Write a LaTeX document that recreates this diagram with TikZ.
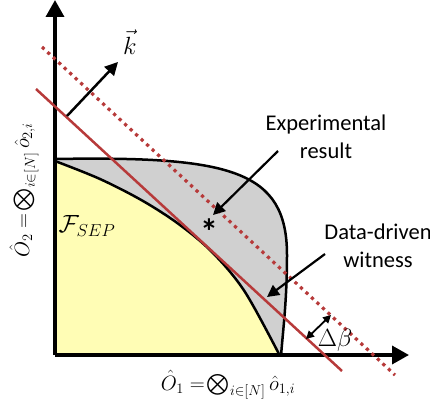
\documentclass[tikz,border=0pt]{standalone}
\usepackage{amsmath}
\usepackage{fontspec}
\setmainfont{Carlito}
\usetikzlibrary{arrows.meta}
\definecolor{redl}{RGB}{183,58,58}
\definecolor{yell}{RGB}{255,253,181}
\definecolor{grayf}{RGB}{208,208,208}
\begin{document}
\begin{tikzpicture}[x=1pt,y=-1pt,
  axis/.style={line width=3.5pt,-{Triangle[length=17pt,width=18pt]}},
  edge/.style={line width=2.5pt,black},
  redsolid/.style={line width=2.5pt,redl},
  reddot/.style={line width=3.2pt,redl,dash pattern=on 3.2pt off 4.3pt},
  pointer/.style={line width=2.2pt,-{Triangle[length=12pt,width=12pt]}},
  dbl/.style={line width=1.8pt,{Triangle[length=8pt,width=8pt]}-{Triangle[length=8pt,width=8pt]}},
  lbl/.style={font=\fontsize{22.5}{28}\selectfont,inner sep=0pt},
  mlbl/.style={font=\fontsize{21}{25}\selectfont,inner sep=0pt}]
\useasboundingbox (0,0) rectangle (430,404);
% regions
\fill[grayf] (55,159) .. controls (230,156) and (287,170) .. (287,255)
  .. controls (287,300) and (283,330) .. (281,356) -- (55,356) -- cycle;
\draw[edge] (55,159) .. controls (230,156) and (287,170) .. (287,255)
  .. controls (287,300) and (283,330) .. (281,356);
\fill[yell] plot[smooth,tension=0.55] coordinates {(55,161) (100,179) (143,201) (180,225) (213,253) (245,292) (280,356)} -- (55,356) -- cycle;
\draw[edge] plot[smooth,tension=0.55] coordinates {(55,161) (100,179) (143,201) (180,225) (213,253) (245,292) (280,356)};
% axes
\coordinate (O) at (55,355);
\coordinate (ytip) at (55,0);
\coordinate (xtip) at (409,355);
\draw[axis] (O) -- (ytip);
\draw[axis] (O) -- (xtip);
% witness lines
\coordinate (rs1) at (36,89);
\coordinate (rs2) at (342,371);
\coordinate (rd1) at (42,47);
\coordinate (rd2) at (395,375);
\draw[redsolid] (rs1) -- (rs2);
\draw[reddot] (rd1) -- (rd2);
% k vector
\coordinate (k1) at (67,116);
\coordinate (k2) at (118,62);
\draw[line width=2.5pt,-{Triangle[length=13pt,width=13pt]}] (k1) -- (k2);
\node[inner sep=0pt,font=\fontsize{25}{28}\selectfont] (klbl) at (130,42) {$\vec{k}$};
% star and experimental result
\node[inner sep=0pt,font=\fontsize{36}{36}\selectfont\bfseries] (star) at (209,232) {*};
\node[lbl,anchor=base] (exp1) at (326,130) {Experimental};
\node[lbl,anchor=base] (exp2) at (326,158) {result};
\coordinate (ea) at (278,151);
\coordinate (eb) at (213,215);
\draw[pointer] (ea) -- (eb);
% data-driven witness
\node[lbl,anchor=base] (dd1) at (378,239) {Data-driven};
\node[lbl,anchor=base] (dd2) at (378,267) {witness};
\coordinate (wa) at (325,254);
\coordinate (wb) at (267,297);
\draw[pointer] (wa) -- (wb);
% delta beta
\coordinate (da) at (306,339);
\coordinate (db) at (331,315);
\draw[dbl] (da) -- (db);
\node[inner sep=0pt,font=\fontsize{23}{26}\selectfont] (dbeta) at (335,340) {$\Delta\beta$};
% labels
\node[inner sep=0pt,font=\fontsize{23}{26}\selectfont] (fsep) at (87,226) {$\mathcal{F}_{SEP}$};
\node[mlbl] (xlbl) at (228,385) {$\hat{O}_1 =\!\bigotimes_{i\in[N]} \hat{o}_{1,i}$};
\node[mlbl,rotate=90] (ylbl) at (24,190) {$\hat{O}_2 =\!\bigotimes_{i\in[N]} \hat{o}_{2,i}$};
\end{tikzpicture}
\end{document}
